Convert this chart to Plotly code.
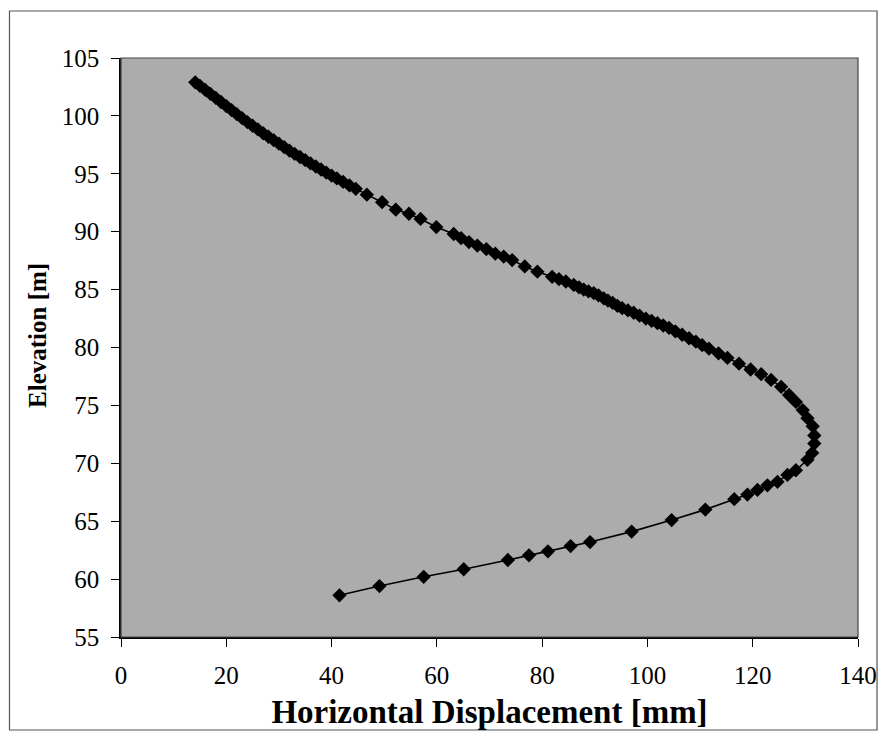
import plotly.graph_objects as go

# Horizontal displacement [mm] (top of profile to bottom)
displacement_mm = [
    14.1, 15.0, 16.0, 17.0, 18.0, 19.0, 20.0, 21.0, 22.0, 23.0, 24.0, 25.0, 26.0, 27.0,
    28.0, 29.0, 30.0, 31.0, 32.0, 33.0, 34.0, 35.0, 36.0, 37.0, 38.0, 39.0, 40.0, 41.0,
    42.2, 43.4, 44.6, 46.7, 49.6, 52.2, 54.7, 56.9, 59.9, 63.2, 64.6, 66.1, 67.7, 69.4,
    71.1, 72.7, 74.3, 76.7, 79.1, 81.9, 83.2, 84.5, 86.0, 87.0, 87.9, 88.8, 89.8, 90.7,
    91.7, 92.5, 93.4, 94.3, 95.2, 96.3, 97.4, 98.5, 99.7, 100.8, 101.9, 103.0, 104.1,
    105.3, 106.6, 107.9, 109.2, 110.4, 111.7, 113.5, 115.2, 117.4, 119.6, 121.6, 123.5,
    125.4, 126.9, 128.2, 129.5, 130.4, 131.4, 131.7, 131.7, 131.3, 130.4, 128.2, 126.6,
    124.7, 122.8, 120.9, 119.0, 116.5, 111.0, 104.6, 97.0, 89.1, 85.4, 81.1, 77.5, 73.5,
    65.1, 57.5, 49.1, 41.5,
]
# Elevation [m]
elevation_m = [
    102.9, 102.6, 102.25, 101.9, 101.55, 101.2, 100.85, 100.5, 100.15, 99.8, 99.47, 99.15,
    98.83, 98.5, 98.2, 97.9, 97.6, 97.3, 97.0, 96.72, 96.45, 96.18, 95.9, 95.63, 95.37,
    95.1, 94.85, 94.6, 94.3, 94.0, 93.7, 93.2, 92.55, 91.9, 91.55, 91.1, 90.4, 89.8, 89.45,
    89.1, 88.8, 88.5, 88.1, 87.85, 87.55, 87.0, 86.55, 86.1, 85.9, 85.7, 85.4, 85.2, 85.0,
    84.85, 84.7, 84.5, 84.25, 84.05, 83.85, 83.6, 83.4, 83.2, 83.0, 82.75, 82.5, 82.3,
    82.1, 81.9, 81.7, 81.4, 81.1, 80.8, 80.5, 80.2, 79.9, 79.5, 79.1, 78.6, 78.1, 77.7,
    77.2, 76.6, 75.9, 75.3, 74.6, 73.9, 73.2, 72.4, 71.7, 70.9, 70.3, 69.4, 69.0, 68.4,
    68.1, 67.7, 67.3, 66.9, 66.0, 65.1, 64.1, 63.2, 62.85, 62.4, 62.05, 61.65, 60.85,
    60.2, 59.4, 58.6,
]

x_ticks = [0, 20, 40, 60, 80, 100, 120, 140]
y_ticks = [55, 60, 65, 70, 75, 80, 85, 90, 95, 100, 105]

fig = go.Figure()
fig.add_trace(go.Scatter(
    x=displacement_mm, y=elevation_m, mode="lines+markers",
    line=dict(color="black", width=1.6),
    marker=dict(symbol="diamond", size=11, color="black"),
    showlegend=False,
))

font_family = "Liberation Serif, Times New Roman, serif"
fig.update_layout(
    width=881, height=732,
    autosize=False,
    margin=dict(l=121, r=23, t=58, b=95, autoexpand=False),
    paper_bgcolor="white",
    plot_bgcolor="#acacac",
    font=dict(family=font_family, color="black", size=25),
    xaxis=dict(
        range=[0, 140], tickvals=x_ticks, showgrid=False, zeroline=False,
        showline=True, linecolor="black", linewidth=1.5, mirror=False,
        ticks="outside", ticklen=8, tickcolor="black", ticklabelstandoff=7,
        ticklabeloverflow="allow",
        tickfont=dict(size=25),
        title=dict(text="<b>Horizontal Displacement [mm]</b>", font=dict(size=33), standoff=12),
    ),
    yaxis=dict(
        range=[55, 105], tickvals=y_ticks, showgrid=False, zeroline=False,
        showline=True, linecolor="black", linewidth=1.5, mirror=False,
        ticks="outside", ticklen=8, tickcolor="black", ticklabelstandoff=7,
        tickfont=dict(size=25),
    ),
    annotations=[
        dict(text="<b>Elevation [m]</b>", xref="paper", yref="paper",
             x=-0.1126, y=0.52, xanchor="center", yanchor="middle",
             textangle=-90, showarrow=False, font=dict(size=25)),
    ],
    shapes=[
        dict(type="rect", xref="paper", yref="paper", x0=0, x1=1, y0=0, y1=1,
             line=dict(color="#444444", width=1.2), fillcolor="rgba(0,0,0,0)", layer="above"),
        dict(type="rect", xref="paper", yref="paper", x0=-0.1513, x1=1.0258, y0=-0.1606, y1=1.0812,
             line=dict(color="#555555", width=1.2), fillcolor="rgba(0,0,0,0)"),
    ],
)

fig.write_html(
    "out.html",
    config={"displayModeBar": False},
    post_script="document.body.style.margin='0';document.body.style.overflow='hidden';",
)
